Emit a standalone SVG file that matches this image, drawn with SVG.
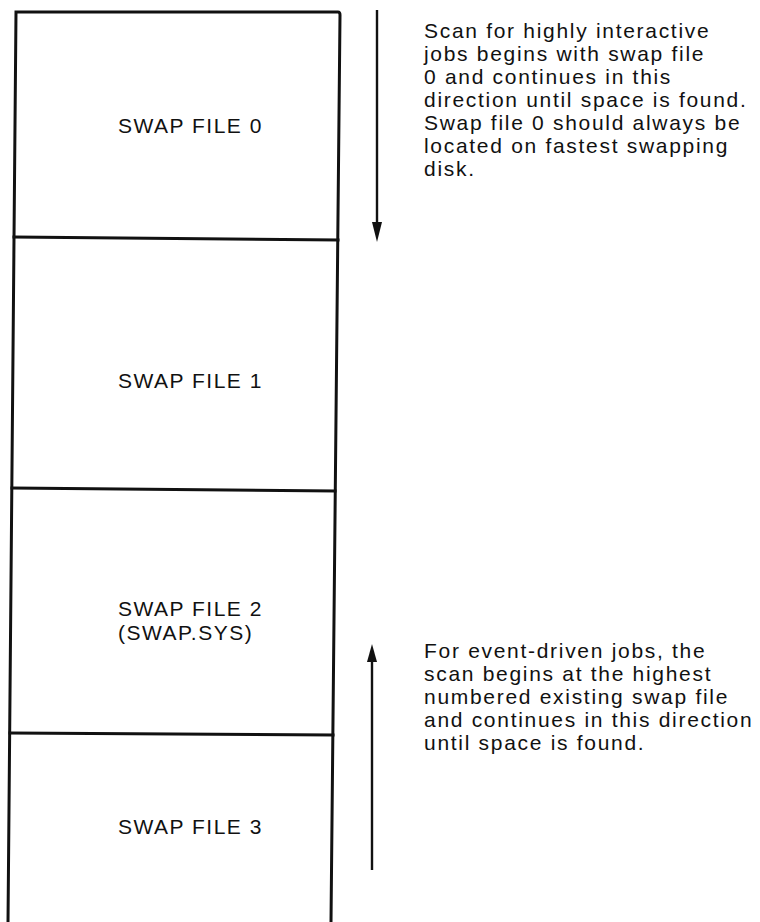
<svg xmlns="http://www.w3.org/2000/svg" width="760" height="922" viewBox="0 0 760 922">
<style>
  .frame { fill: none; stroke: #111; stroke-width: 3; stroke-linecap: square; }
  .lbl { font-family: "Liberation Sans", Arial, sans-serif; font-size: 21px; letter-spacing: 1.5px; fill: #111; }
  .note { font-family: "Liberation Sans", Arial, sans-serif; font-size: 21px; letter-spacing: 1.7px; fill: #111; }
  .arrow { stroke: #111; stroke-width: 2.4; fill: none; }
  .head { fill: #111; }
</style>
<rect width="760" height="922" fill="#fff"/>
<g id="stack">
  <path class="frame" d="M8,922 L16,12 L338,12 Q340,12 340,15 L331,922"/>
</g>
<g id="swap0">
  <text class="lbl" x="118" y="133">SWAP FILE 0</text>
  <line class="frame" x1="14" y1="237" x2="338" y2="240"/>
</g>
<g id="swap1">
  <text class="lbl" x="118" y="388">SWAP FILE 1</text>
  <line class="frame" x1="12" y1="488" x2="335" y2="491"/>
</g>
<g id="swap2">
  <text class="lbl" x="118" y="616">SWAP FILE 2</text>
  <text class="lbl" x="118" y="640">(SWAP.SYS)</text>
  <line class="frame" x1="10" y1="733" x2="333" y2="735"/>
</g>
<g id="swap3">
  <text class="lbl" x="118" y="834">SWAP FILE 3</text>
</g>
<g id="connectors">
  <line class="arrow" x1="377" y1="10" x2="377" y2="226"/>
  <polygon class="head" points="372,222 382,222 377,242"/>
  <line class="arrow" x1="372" y1="660" x2="372" y2="870"/>
  <polygon class="head" points="367,662 377,662 372,644"/>
</g>
<g id="note-top">
  <text class="note" x="424" y="38">Scan for highly interactive</text>
  <text class="note" x="424" y="61">jobs begins with swap file</text>
  <text class="note" x="424" y="84">0 and continues in this</text>
  <text class="note" x="424" y="107">direction until space is found.</text>
  <text class="note" x="424" y="130">Swap file 0 should always be</text>
  <text class="note" x="424" y="153">located on fastest swapping</text>
  <text class="note" x="424" y="176">disk.</text>
</g>
<g id="note-bottom">
  <text class="note" x="424" y="658">For event-driven jobs, the</text>
  <text class="note" x="424" y="681">scan begins at the highest</text>
  <text class="note" x="424" y="704">numbered existing swap file</text>
  <text class="note" x="424" y="727">and continues in this direction</text>
  <text class="note" x="424" y="750">until space is found.</text>
</g>
</svg>
